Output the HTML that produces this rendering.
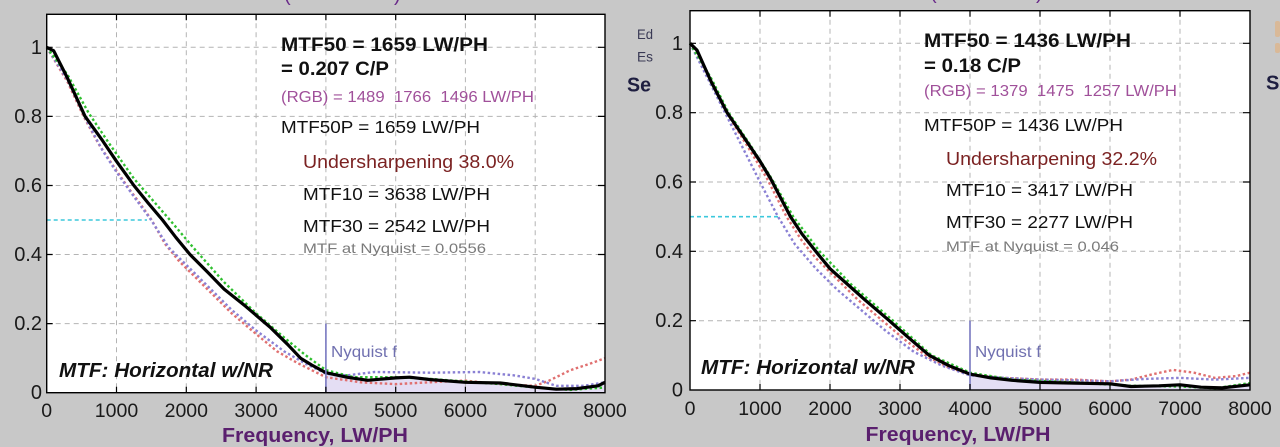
<!DOCTYPE html>
<html><head><meta charset="utf-8"><style>
html,body{margin:0;padding:0;background:#c8c8c8;}
svg{display:block;}
text{font-family:"Liberation Sans",Arial,sans-serif;}
</style></head><body>
<svg width="1280" height="447" viewBox="0 0 1280 447" xmlns="http://www.w3.org/2000/svg">
<rect x="0" y="0" width="1280" height="447" fill="#c8c8c8"/>

<!-- partial titles -->
<text x="284" y="1" font-size="20" fill="#6a2a8a">(</text>
<text x="394" y="1" font-size="20" fill="#6a2a8a">)</text>
<text x="930" y="-1" font-size="20" fill="#6a2a8a">(</text>
<text x="1036" y="-1" font-size="20" fill="#6a2a8a">)</text>

<!-- side labels -->
<text x="637" y="39" font-size="14" fill="#3a3a55" textLength="16" lengthAdjust="spacingAndGlyphs">Ed</text>
<text x="637" y="61.5" font-size="14" fill="#3a3a55" textLength="16" lengthAdjust="spacingAndGlyphs">Es</text>
<text x="627" y="91.5" font-size="20" font-weight="bold" fill="#1e1e40" textLength="24" lengthAdjust="spacingAndGlyphs">Se</text>
<rect x="1275" y="21" width="5" height="16" rx="2" fill="#ddb58c" opacity="0.8"/>
<rect x="1275" y="43" width="5" height="10" rx="2" fill="#ddb58c" opacity="0.8"/>
<text x="1266" y="89.5" font-size="20" font-weight="bold" fill="#1e1e40">S</text>

<!-- ================= LEFT CHART ================= -->
<rect x="46.7" y="14.3" width="558.3" height="378.4" fill="#ffffff"/>
<polygon fill="#e4def4" points="325.9,392.7 325.9,372.7 346.8,377.2 367.7,380.3 395.7,377.9 409.6,377.2 430.5,379.6 465.4,382.3 500.3,383.0 535.2,387.2 556.2,389.2 577.1,388.6 598.0,385.8 605.0,382.3 605,392.7"/>
<g stroke="#b4b4b4" stroke-width="1" stroke-dasharray="5,4" fill="none">
<path d="M116.5,14.3V392.7M186.3,14.3V392.7M256.1,14.3V392.7M325.9,14.3V392.7M395.7,14.3V392.7M465.4,14.3V392.7M535.2,14.3V392.7"/>
<path d="M46.7,323.6H605M46.7,254.5H605M46.7,185.5H605M46.7,116.4H605M46.7,47.3H605"/>
</g>
<path d="M46.7,220H147" stroke="#3cc8dc" stroke-width="1.6" stroke-dasharray="4,3" fill="none"/>
<g fill="none" stroke-width="2.4" stroke-dasharray="2.5,2.5" stroke-linejoin="round">
<polyline stroke="#e07070" points="46.7,47.3 67.6,82 83.6,116.4 98.6,144 112.5,164.7 129,188.9 139.4,202.7 151.6,220 165.3,244.2 179.3,261.4 196.8,278.7 210.7,292.5 231.6,313.3 256.1,334 277,351.3 298,363.3 325.9,377.2 360.7,382.3 395.7,384.1 430.5,382.3 465.4,380.6 500.3,384.1 535.2,385.8 549.2,380.6 570.1,370.3 591.1,363.3 605,358.2"/>
<polyline stroke="#8a80d4" points="46.7,47.3 67.6,80 85.1,117.8 102.5,150.4 116.5,172.1 133.9,196.6 151.1,220 168.8,247.6 186.3,264.9 207.2,285.6 231.6,309.8 256.1,330.5 284,351.3 304.9,363.3 325.9,373.7 346.8,375.4 374.7,372 430.5,372.7 479.4,372 514.3,375.4 535.2,378.9 556.2,385.8 584.1,385.8 605,382.3"/>
<polyline stroke="#30c030" points="46.7,47.3 67.6,74.9 88.6,112.9 109.5,144 133.9,178.6 169.9,220 193.3,247.6 224.1,282.2 256.1,313.3 284,337.4 304.9,354.7 325.9,370.2 353.8,377.2 395.7,377.2 430.5,378.9 465.4,381.6 500.3,384.1 535.2,387.5 570.1,389.9 605,387.5"/>
</g>
<polyline fill="none" stroke="#000" stroke-width="3.2" stroke-linejoin="round" points="46.7,47.3 53.7,50.8 67.6,78.4 85.1,116.4 102.5,140.6 116.5,161.3 133.9,185.5 147.9,202.7 162.5,220.0 175.8,237.3 190.0,254.5 207.2,271.8 224.1,289.1 245.6,306.3 270.0,327.1 287.5,344.3 300.6,358.2 311.9,365.1 325.9,372.7 346.8,377.2 367.7,380.3 395.7,377.9 409.6,377.2 430.5,379.6 465.4,382.3 500.3,383.0 535.2,387.2 556.2,389.2 577.1,388.6 598.0,385.8 605.0,382.3"/>
<path d="M325.9,323.6V392.7" stroke="#7878c0" stroke-width="1.6"/>
<text x="331" y="357" font-size="16" fill="#7070b0" textLength="66" lengthAdjust="spacingAndGlyphs">Nyquist f</text>
<g stroke="#000" stroke-width="1.2">
<path d="M116.5,392.7v-6M186.3,392.7v-6M256.1,392.7v-6M325.9,392.7v-6M395.7,392.7v-6M465.4,392.7v-6M535.2,392.7v-6"/>
<path d="M116.5,14.3v6M186.3,14.3v6M256.1,14.3v6M325.9,14.3v6M395.7,14.3v6M465.4,14.3v6M535.2,14.3v6"/>
<path d="M46.7,323.6h6M46.7,254.5h6M46.7,185.5h6M46.7,116.4h6M46.7,47.3h6"/>
<path d="M605,323.6h-7M605,254.5h-7M605,185.5h-7M605,116.4h-7M605,47.3h-7"/>
</g>
<rect x="46.7" y="14.3" width="558.3" height="378.4" fill="none" stroke="#000" stroke-width="1.4"/>
<text x="281" y="51" font-size="19.5" font-weight="bold" fill="#111" textLength="207" lengthAdjust="spacingAndGlyphs">MTF50 = 1659 LW/PH</text>
<text x="281" y="75" font-size="19.5" font-weight="bold" fill="#111" textLength="108" lengthAdjust="spacingAndGlyphs">= 0.207 C/P</text>
<text x="281" y="102" font-size="16" fill="#a0509a" textLength="253" lengthAdjust="spacingAndGlyphs" xml:space="preserve">(RGB) = 1489  1766  1496 LW/PH</text>
<text x="281" y="133" font-size="17.5" fill="#111" textLength="199" lengthAdjust="spacingAndGlyphs">MTF50P = 1659 LW/PH</text>
<text x="303" y="168" font-size="18" fill="#7b2222" textLength="211" lengthAdjust="spacingAndGlyphs">Undersharpening 38.0%</text>
<text x="303" y="200" font-size="17.5" fill="#111" textLength="187" lengthAdjust="spacingAndGlyphs">MTF10 = 3638 LW/PH</text>
<text x="303" y="232" font-size="17.5" fill="#111" textLength="187" lengthAdjust="spacingAndGlyphs">MTF30 = 2542 LW/PH</text>
<text x="303" y="253" font-size="14" fill="#7a7a7a" textLength="183" lengthAdjust="spacingAndGlyphs">MTF at Nyquist = 0.0556</text>
<text x="59" y="377" font-size="20.5" font-weight="bold" font-style="italic" fill="#111" textLength="214" lengthAdjust="spacingAndGlyphs">MTF: Horizontal w/NR</text>
<g font-size="20" fill="#1a1a1a" text-anchor="end">
<text x="42" y="54">1</text><text x="42" y="123">0.8</text><text x="42" y="192">0.6</text><text x="42" y="261">0.4</text><text x="42" y="330">0.2</text><text x="42" y="399">0</text>
</g>
<g font-size="19.5" fill="#1a1a1a" text-anchor="middle">
<text x="46.7" y="417">0</text><text x="116.5" y="417">1000</text><text x="186.3" y="417">2000</text><text x="256.1" y="417">3000</text><text x="325.9" y="417">4000</text><text x="395.7" y="417">5000</text><text x="465.4" y="417">6000</text><text x="535.2" y="417">7000</text><text x="605" y="417">8000</text>
</g>
<text x="315" y="442" font-size="20" font-weight="bold" fill="#5a1f6e" text-anchor="middle" textLength="186" lengthAdjust="spacingAndGlyphs">Frequency, LW/PH</text>

<!-- ================= RIGHT CHART ================= -->
<rect x="690" y="10.7" width="560" height="379.3" fill="#ffffff"/>
<polygon fill="#e4def4" points="970,390 970,374.1 991,377.9 1012,380.3 1040,382.4 1075,383.1 1110,383.8 1131,386.5 1159,385.8 1180,384.8 1201,387.2 1222,387.9 1250,384.8 1250,390"/>
<g stroke="#b4b4b4" stroke-width="1" stroke-dasharray="5,4" fill="none">
<path d="M760,10.7V390M830,10.7V390M900,10.7V390M970,10.7V390M1040,10.7V390M1110,10.7V390M1180,10.7V390"/>
<path d="M690,320.7H1250M690,251.3H1250M690,182H1250M690,112.7H1250M690,43.3H1250"/>
</g>
<path d="M690,216.7H781" stroke="#3cc8dc" stroke-width="1.6" stroke-dasharray="4,3" fill="none"/>
<g fill="none" stroke-width="2.4" stroke-dasharray="2.5,2.5" stroke-linejoin="round">
<polyline stroke="#e07070" points="690,43.3 711,81.4 726.4,112.6 746,143.8 767,178.5 786.5,216.7 802,240.9 816,258.3 837,279.1 858,299.9 882.5,320.7 907,341.5 928,357.1 949,367.5 970,374.4 1005,377.9 1040,379.6 1075,379.6 1110,381.3 1131,379.6 1152,374.4 1173,369.9 1194,372.7 1215,377.9 1236,376.1 1250,372.7"/>
<polyline stroke="#8a80d4" points="690,43.3 711,84.9 728.5,119.6 746,154.2 760,182 778,216.7 795,244.4 816,268.7 837,289.5 861.5,310.3 886,331.1 914,351.9 942,365.7 970,375.4 1005,377.9 1040,379.6 1075,380.3 1110,381.3 1145,378.9 1180,377.9 1215,379.6 1250,377.9"/>
<polyline stroke="#30c030" points="690,43.3 711,78 728.5,112.6 749.5,143.8 770.5,176.8 793.3,216.7 819.5,251.3 851,284.3 893,320.7 931.5,355.3 970,372.7 1012,379.6 1075,382.4 1131,385.8 1180,386.5 1215,388.3 1250,383.1"/>
</g>
<polyline fill="none" stroke="#000" stroke-width="3.2" stroke-linejoin="round" points="690,43.3 697,50.2 711,81.4 727.1,112.6 746,140.4 760,161.2 770.5,178.5 790.5,216.7 802,234 815.7,251.3 830,268.7 849.4,286 865,299.9 889.3,320.7 907,336.3 929.2,355.3 949,365.7 970,374.1 991,377.9 1012,380.3 1040,382.4 1075,383.1 1110,383.8 1131,386.5 1159,385.8 1180,384.8 1201,387.2 1222,387.9 1250,384.8"/>
<path d="M970,320.7V390" stroke="#7878c0" stroke-width="1.6"/>
<text x="975" y="357" font-size="16" fill="#7070b0" textLength="66" lengthAdjust="spacingAndGlyphs">Nyquist f</text>
<g stroke="#000" stroke-width="1.2">
<path d="M760,390v-6M830,390v-6M900,390v-6M970,390v-6M1040,390v-6M1110,390v-6M1180,390v-6"/>
<path d="M760,10.7v6M830,10.7v6M900,10.7v6M970,10.7v6M1040,10.7v6M1110,10.7v6M1180,10.7v6"/>
<path d="M690,320.7h6M690,251.3h6M690,182h6M690,112.7h6M690,43.3h6"/>
<path d="M1250,320.7h-7M1250,251.3h-7M1250,182h-7M1250,112.7h-7M1250,43.3h-7"/>
</g>
<rect x="690" y="10.7" width="560" height="379.3" fill="none" stroke="#000" stroke-width="1.4"/>
<text x="924" y="47" font-size="19.5" font-weight="bold" fill="#111" textLength="207" lengthAdjust="spacingAndGlyphs">MTF50 = 1436 LW/PH</text>
<text x="924" y="72" font-size="19.5" font-weight="bold" fill="#111" textLength="97" lengthAdjust="spacingAndGlyphs">= 0.18 C/P</text>
<text x="924" y="96" font-size="16" fill="#a0509a" textLength="253" lengthAdjust="spacingAndGlyphs" xml:space="preserve">(RGB) = 1379  1475  1257 LW/PH</text>
<text x="924" y="131" font-size="17.5" fill="#111" textLength="199" lengthAdjust="spacingAndGlyphs">MTF50P = 1436 LW/PH</text>
<text x="946" y="165" font-size="18" fill="#7b2222" textLength="211" lengthAdjust="spacingAndGlyphs">Undersharpening 32.2%</text>
<text x="946" y="196" font-size="17.5" fill="#111" textLength="187" lengthAdjust="spacingAndGlyphs">MTF10 = 3417 LW/PH</text>
<text x="946" y="228" font-size="17.5" fill="#111" textLength="187" lengthAdjust="spacingAndGlyphs">MTF30 = 2277 LW/PH</text>
<text x="946" y="251" font-size="14" fill="#7a7a7a" textLength="173" lengthAdjust="spacingAndGlyphs">MTF at Nyquist = 0.046</text>
<text x="701" y="374" font-size="20.5" font-weight="bold" font-style="italic" fill="#111" textLength="214" lengthAdjust="spacingAndGlyphs">MTF: Horizontal w/NR</text>
<g font-size="20" fill="#1a1a1a" text-anchor="end">
<text x="683" y="50">1</text><text x="683" y="119">0.8</text><text x="683" y="188.5">0.6</text><text x="683" y="258">0.4</text><text x="683" y="327">0.2</text><text x="683" y="396.5">0</text>
</g>
<g font-size="19.5" fill="#1a1a1a" text-anchor="middle">
<text x="690" y="415">0</text><text x="760" y="415">1000</text><text x="830" y="415">2000</text><text x="900" y="415">3000</text><text x="970" y="415">4000</text><text x="1040" y="415">5000</text><text x="1110" y="415">6000</text><text x="1180" y="415">7000</text><text x="1250" y="415">8000</text>
</g>
<text x="958" y="441" font-size="20" font-weight="bold" fill="#5a1f6e" text-anchor="middle" textLength="185" lengthAdjust="spacingAndGlyphs">Frequency, LW/PH</text>
</svg>
</body></html>
